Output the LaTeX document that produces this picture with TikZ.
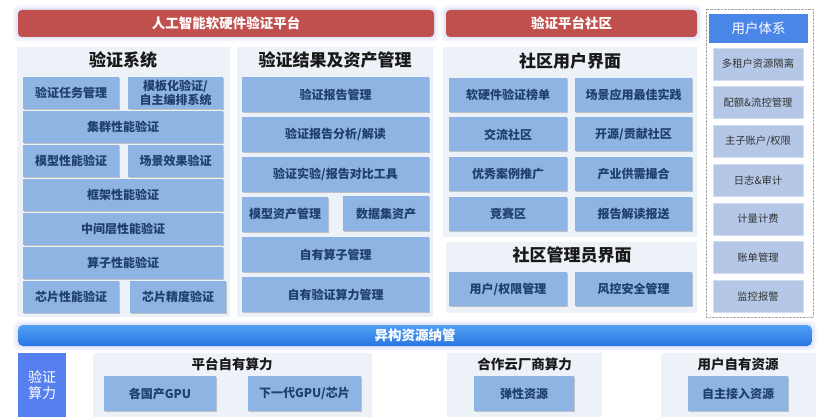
\documentclass[tikz,border=0pt]{standalone}
\usepackage{fontspec}
\setmainfont{Noto Sans CJK SC}
\usetikzlibrary{shadows}
\definecolor{redbar}{HTML}{C0504D}
\definecolor{glow}{HTML}{B3BAF0}
\definecolor{panelbg}{HTML}{EDF1F8}
\definecolor{cellblue}{HTML}{8EB4E3}
\definecolor{celltext}{HTML}{1F3F6E}
\definecolor{userhead}{HTML}{4A86E8}
\definecolor{itemfill}{HTML}{B4C7E7}
\definecolor{barlight}{HTML}{4FA0F4}
\definecolor{bardark}{HTML}{2A76E2}
\definecolor{powerbox}{HTML}{5680F0}

\tikzset{
  panel/.style={fill=panelbg},
  cell/.style={fill=cellblue, text=celltext, inner sep=0pt, align=center,
    font=\bfseries\fontsize{12}{13.5}\selectfont,
    drop shadow={shadow xshift=0.6pt, shadow yshift=-1pt, opacity=0.35, fill=black!60}},
  heading/.style={font=\bfseries\fontsize{17}{20}\selectfont, text=black!90},
  subheading/.style={font=\bfseries\fontsize{13.5}{16}\selectfont, text=black!90},
  banner/.style={fill=redbar, rounded corners=4pt, text=white, inner sep=0pt,
    font=\bfseries\fontsize{13.5}{16}\selectfont},
  useritem/.style={fill=itemfill, draw=itemfill!60!white, text=black!80, inner sep=0pt,
    minimum width=90pt, minimum height=32pt, font=\fontsize{10.3}{12}\selectfont},
}

\begin{document}
\begin{tikzpicture}[x=1pt, y=-1pt]
  \useasboundingbox[fill=white] (0,0) rectangle (830,417);

  % glow round the banners
  \foreach \g/\o in {5/0.08, 3.5/0.12, 2/0.18}{
    \fill[glow, opacity=\o, rounded corners=6pt] (18-\g,10-\g) rectangle (434+\g,37+\g);
    \fill[glow, opacity=\o, rounded corners=6pt] (446-\g,10-\g) rectangle (697+\g,37+\g);
    \fill[glow, opacity=\o, rounded corners=7pt] (18-\g,325-\g) rectangle (812+\g,346+\g);
  }
  \node[banner, minimum width=416pt, minimum height=27pt] (platform) at (226,23.5) {人工智能软硬件验证平台};
  \node[banner, minimum width=251pt, minimum height=27pt] (community) at (571.5,23.5) {验证平台社区};

  % validation system
  \fill[panel] (17,47) rectangle (230,317);
  \node[heading] (sysTitle) at (123,60) {验证系统};
  \node[cell, minimum width=96pt, minimum height=32pt] (sysTask) at (71,93) {验证任务管理};
  \node[cell, minimum width=95pt, minimum height=32pt] (sysTemplate) at (175.5,93) {模板化验证/\\自主编排系统};
  \node[cell, minimum width=200pt, minimum height=32pt] (sysCluster) at (123,127) {集群性能验证};
  \node[cell, minimum width=96pt, minimum height=32pt] (sysModel) at (71,161) {模型性能验证};
  \node[cell, minimum width=95pt, minimum height=32pt] (sysScene) at (175.5,161) {场景效果验证};
  \node[cell, minimum width=200pt, minimum height=32pt] (sysFrame) at (123,195) {框架性能验证};
  \node[cell, minimum width=200pt, minimum height=32pt] (sysMiddle) at (123,229) {中间层性能验证};
  \node[cell, minimum width=200pt, minimum height=32pt] (sysOp) at (123,263) {算子性能验证};
  \node[cell, minimum width=96pt, minimum height=32pt] (sysChipPerf) at (71,297) {芯片性能验证};
  \node[cell, minimum width=96pt, minimum height=32pt] (sysChipAcc) at (178,297) {芯片精度验证};

  % results and assets
  \fill[panel] (237,47) rectangle (433,317);
  \node[heading] (resTitle) at (335,60) {验证结果及资产管理};
  \node[cell, minimum width=187pt, minimum height=35pt] (resReport) at (335.5,94.5) {验证报告管理};
  \node[cell, minimum width=187pt, minimum height=35pt] (resAnalysis) at (335.5,134.5) {验证报告分析/解读};
  \node[cell, minimum width=187pt, minimum height=35pt] (resCompare) at (335.5,174.5) {验证实验/报告对比工具};
  \node[cell, minimum width=86pt, minimum height=35pt] (resModel) at (285,214) {模型资产管理};
  \node[cell, minimum width=86pt, minimum height=35pt] (resData) at (386,213.5) {数据集资产};
  \node[cell, minimum width=187pt, minimum height=35pt] (resOp) at (335.5,254.5) {自有算子管理};
  \node[cell, minimum width=187pt, minimum height=35pt] (resPower) at (335.5,294.5) {自有验证算力管理};

  % community user interface
  \fill[panel] (443,47) rectangle (697,237);
  \node[heading] (userUiTitle) at (570,61) {社区用户界面};
  \node[cell, minimum width=118pt, minimum height=34pt] (uiRank) at (508,95) {软硬件验证榜单};
  \node[cell, minimum width=117pt, minimum height=34pt] (uiBest) at (633.5,95) {场景应用最佳实践};
  \node[cell, minimum width=118pt, minimum height=34pt] (uiForum) at (508,134.5) {交流社区};
  \node[cell, minimum width=117pt, minimum height=34pt] (uiOpen) at (633.5,134.5) {开源/贡献社区};
  \node[cell, minimum width=118pt, minimum height=34pt] (uiCase) at (508,174) {优秀案例推广};
  \node[cell, minimum width=117pt, minimum height=34pt] (uiMatch) at (633.5,174) {产业供需撮合};
  \node[cell, minimum width=118pt, minimum height=34pt] (uiContest) at (508,213.5) {竞赛区};
  \node[cell, minimum width=117pt, minimum height=34pt] (uiReport) at (633.5,213.5) {报告解读报送};

  % community admin interface
  \fill[panel] (446,242) rectangle (697,313);
  \node[heading] (adminTitle) at (572,255) {社区管理员界面};
  \node[cell, minimum width=118pt, minimum height=34pt] (adminUser) at (508,289) {用户/权限管理};
  \node[cell, minimum width=117pt, minimum height=34pt] (adminRisk) at (633.5,289) {风控安全管理};

  % user system
  \draw[black!35, densely dotted, fill=white] (706,9) rectangle (813,317);
  \node[fill=userhead, text=white, inner sep=0pt, minimum width=99pt, minimum height=29pt,
    font=\fontsize{13.5}{16}\selectfont] (userHead) at (758.5,28.5) {用户体系};
  \foreach \t [count=\i] in {多租户资源隔离, 配额\&流控管理, 主子账户/权限, 日志\&审计, 计量计费, 账单管理, 监控报警}{
    \node[useritem] (user\i) at (758,{64+38.7*(\i-1)}) {\t};
  }

  % heterogeneous resources bar
  \node[top color=barlight, bottom color=bardark, rounded corners=5pt, inner sep=0pt,
    minimum width=794pt, minimum height=21pt, text=white,
    font=\bfseries\fontsize{13.5}{16}\selectfont] (hetero) at (415,335.5) {异构资源纳管};

  % compute row
  \node[fill=powerbox, text=white, inner sep=0pt, align=center, minimum width=48pt, minimum height=64pt,
    font=\fontsize{14}{16}\selectfont] (power) at (42,385) {验证\\算力};
  \fill[panel] (93,353) rectangle (372,417);
  \node[subheading] (ownTitle) at (232,364) {平台自有算力};
  \node[cell, minimum width=112pt, minimum height=35pt] (ownGpu) at (160,393.5) {各国产GPU};
  \node[cell, minimum width=113pt, minimum height=35pt] (ownNext) at (304.5,393.5) {下一代GPU/芯片};
  \fill[panel] (447,353) rectangle (602,417);
  \node[subheading] (cloudTitle) at (524.5,364) {合作云厂商算力};
  \node[cell, minimum width=100pt, minimum height=35pt] (cloudElastic) at (524,393.5) {弹性资源};
  \fill[panel] (661,353) rectangle (816,417);
  \node[subheading] (selfTitle) at (738,364) {用户自有资源};
  \node[cell, minimum width=100pt, minimum height=35pt] (selfAccess) at (738,393.5) {自主接入资源};
\end{tikzpicture}
\end{document}
